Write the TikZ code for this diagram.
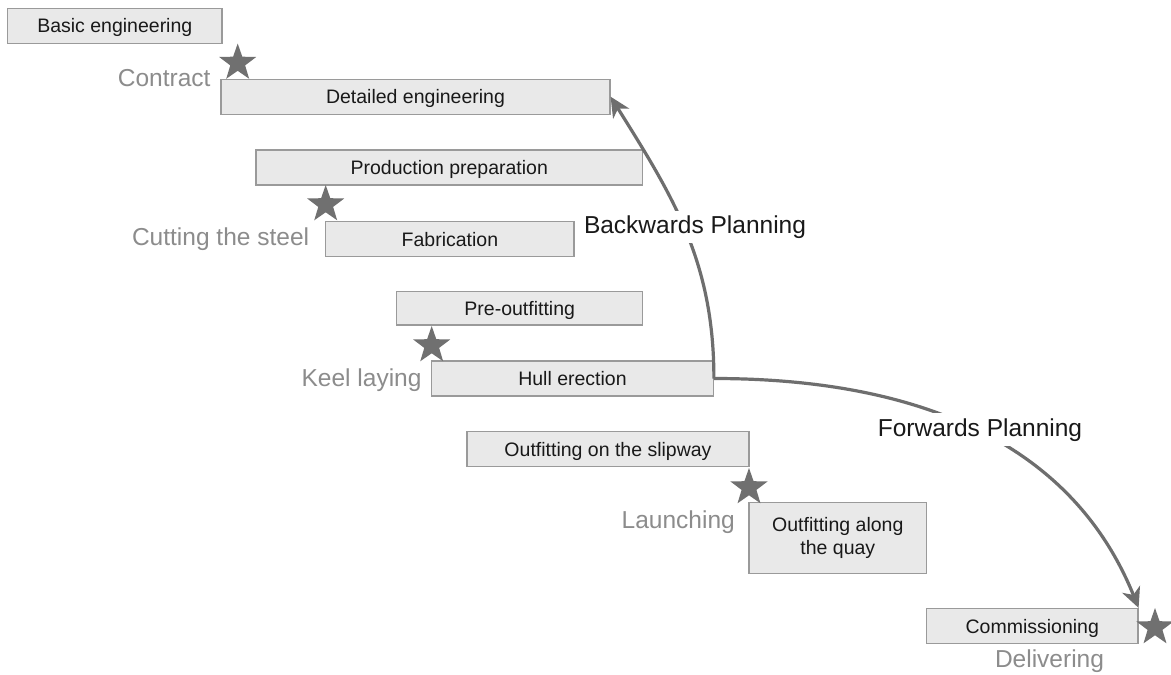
\documentclass[tikz,border=0pt]{standalone}
\usepackage{fontspec}
\setmainfont{Liberation Sans}
\usetikzlibrary{shapes.geometric,arrows.meta}
\definecolor{boxfill}{HTML}{E9E9E9}
\definecolor{boxline}{HTML}{9A9A9A}
\definecolor{starcol}{HTML}{707070}
\definecolor{mscol}{HTML}{8C8C8C}
\definecolor{arrcol}{HTML}{6E6E6E}
\tikzstyle{bar}=[draw=boxline,line width=1.2pt,fill=boxfill,minimum height=35pt,inner sep=0pt,text=black!90,font=\fontsize{19.5}{23.7}\selectfont]
\tikzstyle{task}=[bar,text height=14pt,text depth=0pt]
\tikzstyle{st}=[star,star points=5,star point ratio=2.5,minimum size=39pt,inner sep=0pt,fill=starcol]
\tikzstyle{ms}=[inner sep=0pt,text=mscol,font=\fontsize{24.5}{29}\selectfont]
\tikzstyle{pl}=[fill=white,inner sep=5pt,text=black!90,font=\fontsize{24.5}{29}\selectfont]
\tikzstyle{arr}=[draw=arrcol,line width=3.2pt,-{Stealth[length=20pt,width=19pt,inset=6pt]}]

\begin{document}
\begin{tikzpicture}[x=1pt,y=-1pt]
\path[use as bounding box,fill=white] (0,0) rectangle (1171,675);
\node[task,minimum width=214.5pt] (basic) at (114.8,25.8) {Basic engineering};
\node[task,minimum width=389pt] (detail) at (415.5,96.7) {Detailed engineering};
\node[task,minimum width=386.6pt] (prep) at (449.3,167.5) {Production preparation};
\node[task,minimum width=248.3pt] (fab) at (449.9,239) {Fabrication};
\node[task,minimum width=246pt,minimum height=33.5pt] (preout) at (519.7,308.3) {Pre-outfitting};
\node[task,minimum width=281.6pt] (hull) at (572.5,378.5) {Hull erection};
\node[task,minimum width=282pt] (slip) at (608,449.2) {Outfitting on the slipway};
\node[bar,align=center,minimum width=177.6pt,minimum height=70.6pt] (quay) at (837.8,538) {Outfitting along\\the quay};
\node[task,minimum width=211.4pt] (comm) at (1032.3,626) {Commissioning};
\node[st] (contract) at (237.7,63) {};
\node[st] (cutting) at (325.7,204.5) {};
\node[st] (keel) at (431.7,345.5) {};
\node[st] (launch) at (749,487.5) {};
\node[st] (deliver) at (1155,627.5) {};
\node[ms,anchor=base east] (contractlbl) at (210.7,86.7) {Contract};
\node[ms,anchor=base east] (cuttinglbl) at (309.3,245) {Cutting the steel};
\node[ms,anchor=base east] (keellbl) at (421.7,386) {Keel laying};
\node[ms,anchor=base east] (launchlbl) at (735,528.3) {Launching};
\node[ms,anchor=base] (deliverlbl) at (1049.5,667.3) {Delivering};
\draw[arr] (hull.east) to[out=90,in=-58] (detail.east);
\draw[arr] (hull.east) to[out=0,in=112] (comm.north east);
\node[pl,anchor=base] (backlbl) at (695,233.3) {Backwards Planning};
\node[pl,anchor=base] (fwdlbl) at (980,436) {Forwards Planning};
\end{tikzpicture}
\end{document}
